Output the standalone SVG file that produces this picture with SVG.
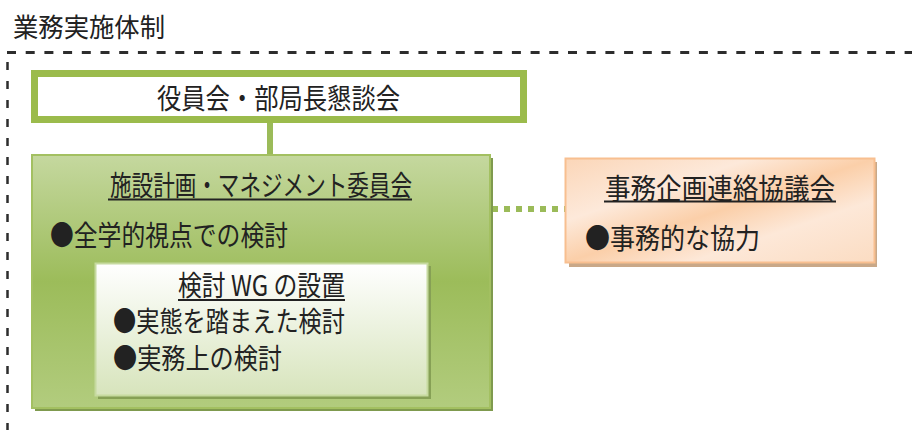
<svg xmlns="http://www.w3.org/2000/svg" width="912" height="430" viewBox="0 0 912 430">
<defs>
<linearGradient id="gGreen" x1="0" y1="0" x2="0" y2="1">
<stop offset="0" stop-color="#c5d89f"/>
<stop offset="0.5" stop-color="#9cbc5a"/>
<stop offset="1" stop-color="#b2cc7e"/>
</linearGradient>
<linearGradient id="gWhite" x1="0" y1="0" x2="0" y2="1">
<stop offset="0" stop-color="#ffffff"/>
<stop offset="1" stop-color="#d7e4bc"/>
</linearGradient>
<linearGradient id="gOrange" x1="0" y1="0" x2="1" y2="1">
<stop offset="0" stop-color="#fbd6b8"/>
<stop offset="0.3" stop-color="#fde9da"/>
<stop offset="0.5" stop-color="#fbcfa9"/>
<stop offset="0.7" stop-color="#fde8d8"/>
<stop offset="1" stop-color="#fbdcc2"/>
</linearGradient>
</defs>
<style>
text { font-family: "Noto Sans CJK JP", "Liberation Sans", sans-serif; fill: #222; }
.t { font-size: 28px; }
.u { stroke: #222; stroke-width: 2; }
</style>
<text x="13" y="37" style="font-size:26px" textLength="152" lengthAdjust="spacingAndGlyphs">業務実施体制</text>
<g id="frame">
<line x1="7" y1="52.5" x2="912" y2="52.5" stroke="#2d2d2d" stroke-width="3" stroke-dasharray="9 9.7"/>
<line x1="7.5" y1="62" x2="7.5" y2="430" stroke="#2d2d2d" stroke-width="2.5" stroke-dasharray="8 11"/>
</g>
<g id="connectors">
<line x1="270" y1="123" x2="270" y2="155" stroke="#9bbb59" stroke-width="6"/>
<line x1="492" y1="209" x2="565" y2="209" stroke="#9bbb59" stroke-width="6" stroke-dasharray="6 6"/>
</g>
<g id="board">
<rect x="34.5" y="73.5" width="489" height="46" fill="#fff" stroke="#9bbb4c" stroke-width="7"/>
<text class="t" x="157" y="109" textLength="243" lengthAdjust="spacingAndGlyphs">役員会・部局長懇談会</text>
</g>
<g id="committee">
<rect x="35" y="158" width="458" height="253" fill="#7f9a4e"/>
<rect x="32" y="155" width="458" height="253" fill="url(#gGreen)" stroke="#a3c061" stroke-width="2"/>
<text class="t" x="110" y="196" textLength="302" lengthAdjust="spacingAndGlyphs">施設計画・マネジメント委員会</text>
<line class="u" x1="108" y1="199.5" x2="412" y2="199.5"/>
<text class="t" x="50" y="246" textLength="238" lengthAdjust="spacingAndGlyphs">●全学的視点での検討</text>
</g>
<g id="wg">
<rect x="98" y="266" width="333" height="133" fill="#86a055"/>
<rect x="95.5" y="263.5" width="332" height="132" fill="url(#gWhite)" stroke="#c6da9f" stroke-width="2"/>
<text class="t" x="178" y="296" textLength="167" lengthAdjust="spacingAndGlyphs">検討 WG の設置</text>
<line class="u" x1="178" y1="300" x2="345" y2="300"/>
<text class="t" x="113" y="332" textLength="232" lengthAdjust="spacingAndGlyphs">●実態を踏まえた検討</text>
<text class="t" x="113" y="369" textLength="169" lengthAdjust="spacingAndGlyphs">●実務上の検討</text>
</g>
<g id="liaison">
<rect x="569" y="162" width="308" height="105" fill="#c9a888"/>
<rect x="565.5" y="158.5" width="309" height="104" fill="url(#gOrange)" stroke="#f8bf90" stroke-width="2"/>
<text class="t" x="605" y="199" textLength="230" lengthAdjust="spacingAndGlyphs">事務企画連絡協議会</text>
<line class="u" x1="604" y1="201.5" x2="836" y2="201.5"/>
<text class="t" x="585" y="249" textLength="175" lengthAdjust="spacingAndGlyphs">●事務的な協力</text>
</g>
</svg>
